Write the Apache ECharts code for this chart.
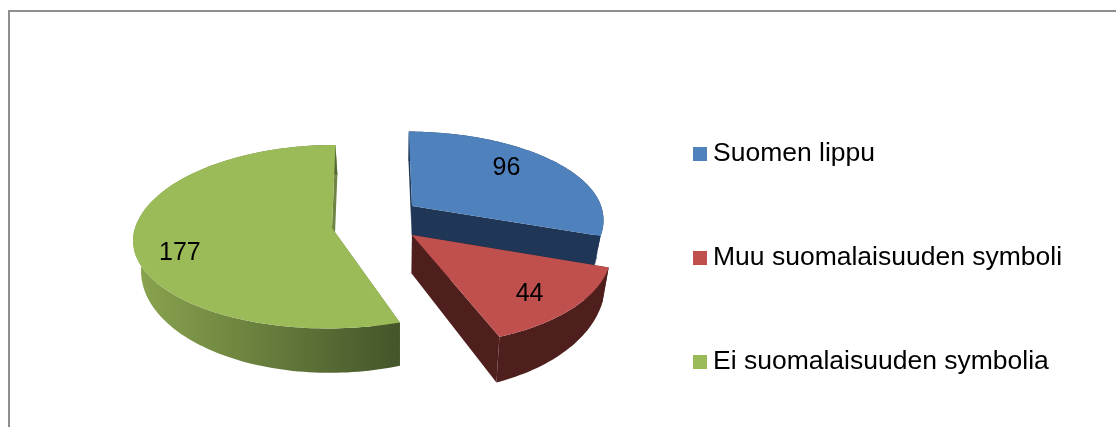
<!DOCTYPE html>
<html>
<head>
<meta charset="utf-8">
<style>html,body{margin:0;padding:0;background:#fff}#c{width:1116px;height:427px}</style>
<script src="https://cdn.jsdelivr.net/npm/echarts@6/dist/echarts.min.js"></script>
</head>
<body>
<div id="c"></div>
<script>
const categories = ['Suomen lippu', 'Muu suomalaisuuden symboli', 'Ei suomalaisuuden symbolia'];
const values = [96, 44, 177];
const topColors = ['#4f81bd', '#c0504d', '#9bbb59'];
const wallColors = [['#1f3657', '#1f3657'], ['#4f1f1e', '#4f1f1e'], ['#8ba54f', '#44552a']];
const edgeColors = ['#1f3657', '#4f1f1e', '#6f8343'];
const apexes = [[51.6, -0.242], [49.5, 0.0745], [-30, 0]];
const labelOffsets = [[0.53, -0.46], [0.52, 0.57], [-0.73, 0.258]];
const radiusX = [0.975, 0.975, 0.985];
const radiusZBack = [0.945, 1, 1];
const radiusZFront = [1, 1, 0.94];
const startNudgeDeg = [0.7, 0, 2.2];
const apexDepthExtra = [0, 9, 0];

const FONT = '"Liberation Sans", Arial, sans-serif';
const view = {vx: 362, cy: 228, a: 200, b: 93.8, k: 0.13, vertCx: 400, vertScale: 0.97, depth0: 29.5, depthK: 115};
const total = values.reduce((s, v) => s + v, 0);

function project(X, Z) {
  const s = 1 / (1 - view.k * Z);
  return {x: view.vx + X * s, y: view.cy + view.b * Z * s, s};
}
function lower(p) {
  return [view.vertCx + (p.x - view.vertCx) * view.vertScale,
          p.y + view.depth0 + Math.max(0, p.s - 1.01) * view.depthK];
}
function pt(p) { return [p.x, p.y]; }

function renderSlice(i) {
  return function (params, api) {
    const value = api.value(0);
    let before = 0;
    for (let j = 0; j < i; j++) before += values[j];
    const t0 = before / total * 2 * Math.PI + startNudgeDeg[i] * Math.PI / 180;
    const t1 = (before + value) / total * 2 * Math.PI;
    const [ax, az] = apexes[i];
    const apex = project(ax, az);
    const rim = [];
    const steps = Math.max(8, Math.round((t1 - t0) * 40));
    for (let n = 0; n <= steps; n++) {
      const t = t0 + (t1 - t0) * n / steps;
      const dz = -Math.cos(t);
      rim.push(project(ax + view.a * radiusX[i] * Math.sin(t),
                       az + dz * (dz < 0 ? radiusZBack[i] : radiusZFront[i])));
    }
    const rimTop = rim.map(pt);
    const rimLow = rim.map(lower);
    const xs = rimTop.map(p => p[0]);
    const x0 = Math.min(...xs), x1 = Math.max(...xs);
    const wallFill = new echarts.graphic.LinearGradient(x0, 0, x1, 0, [
      {offset: 0, color: wallColors[i][0]}, {offset: 1, color: wallColors[i][1]}
    ], true);
    const edgeFill = edgeColors[i];
    const poly = (points, fill) => ({type: 'polygon', shape: {points}, style: {fill}, silent: true});
    const apexLow = lower(apex);
    apexLow[1] += apexDepthExtra[i];
    const children = [
      poly([pt(rim[0]), pt(apex), apexLow, rimLow[0]], edgeFill),
      poly([pt(rim[rim.length - 1]), pt(apex), apexLow, rimLow[rimLow.length - 1]], edgeFill),
      poly(rimTop.concat(rimLow.slice().reverse()), wallFill),
      poly([pt(apex)].concat(rimTop), topColors[i])
    ];
    const lp = project(ax + labelOffsets[i][0] * view.a, az + labelOffsets[i][1]);
    children.push({
      type: 'text', silent: true,
      style: {x: lp.x, y: lp.y, text: String(value), fill: '#000', font: '25px ' + FONT, align: 'center', verticalAlign: 'middle'}
    });
    return {type: 'group', children};
  };
}

const order = [2, 0, 1];
const series = order.map(i => ({
  type: 'custom',
  name: categories[i],
  coordinateSystem: 'none',
  data: [[values[i]]],
  itemStyle: {color: topColors[i]},
  renderItem: renderSlice(i),
  animation: false
}));

const chart = echarts.init(document.getElementById('c'), null, {renderer: 'canvas'});
chart.setOption({
  backgroundColor: '#fff',
  animation: false,
  legend: {
    orient: 'vertical', left: 693, top: 139, itemWidth: 14, itemHeight: 14, itemGap: 74,
    selectedMode: false, icon: 'rect', padding: 0,
    data: categories.map(name => ({name})),
    textStyle: {fontFamily: FONT, fontSize: 26.5, lineHeight: 30, color: '#000', padding: [0, 0, 0, 1]}
  },
  graphic: [
    {type: 'line', silent: true, shape: {x1: 8, y1: 11, x2: 1116, y2: 11}, style: {stroke: '#8e8e8e', lineWidth: 2}},
    {type: 'line', silent: true, shape: {x1: 9, y1: 10, x2: 9, y2: 427}, style: {stroke: '#8e8e8e', lineWidth: 2}}
  ],
  series
});
</script>
</body>
</html>
